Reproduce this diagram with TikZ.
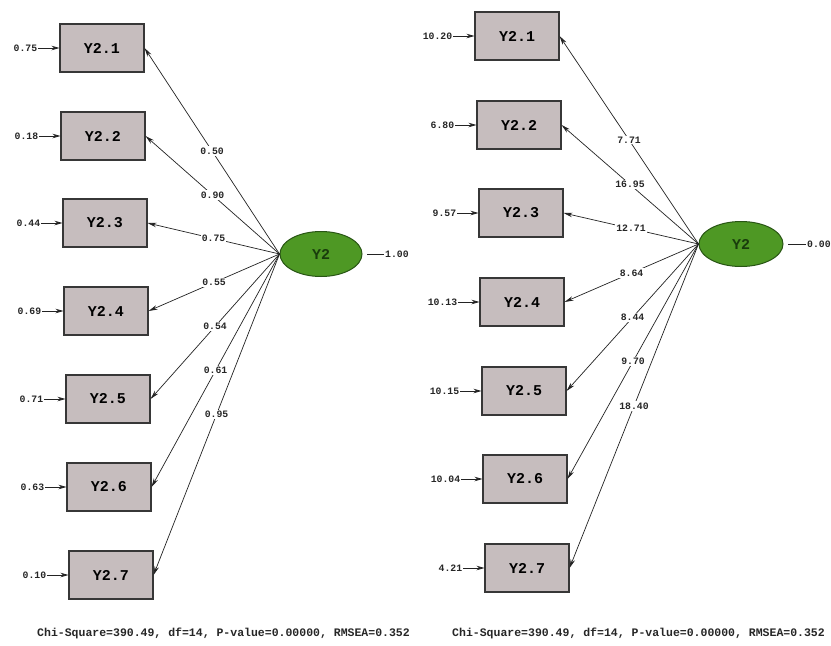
\documentclass[tikz,border=0pt]{standalone}
\usepackage{fontspec}
\setmonofont{Liberation Mono}
\usetikzlibrary{arrows.meta,shapes.geometric}
\definecolor{boxfill}{RGB}{198,189,190}
\definecolor{boxline}{RGB}{55,55,55}
\definecolor{ellfill}{RGB}{78,152,36}
\definecolor{ellline}{RGB}{40,85,20}
\definecolor{elltext}{RGB}{25,60,12}
\definecolor{wire}{RGB}{35,35,35}
\tikzset{
  obsbox/.style={draw=boxline,fill=boxfill,line width=1.1pt,minimum width=84pt,minimum height=48pt,inner sep=0pt,font=\fontsize{15}{15}\selectfont\ttfamily\bfseries},
  latent/.style={ellipse,draw=ellline,fill=ellfill,line width=1pt,minimum width=82pt,minimum height=45pt,inner sep=0pt,font=\fontsize{15}{15}\selectfont\ttfamily\bfseries,text=elltext},
  numtxt/.style={inner sep=1pt,font=\fontsize{9.8}{10}\selectfont\ttfamily\bfseries,text=black!85},
  lbl/.style={numtxt,fill=white,inner sep=1.2pt},
  load/.style={draw=wire,line width=0.7pt,-{Stealth[length=9pt,width=4.5pt]}},
  resid/.style={draw=wire,line width=0.7pt,-{Stealth[length=8pt,width=4.5pt]}},
  fitline/.style={draw=wire,line width=0.5pt},
  fit/.style={inner sep=0pt,anchor=west,font=\fontsize{11.5}{12}\selectfont\ttfamily\bfseries,text=black!85}
}
\begin{document}
\begin{tikzpicture}[x=1pt,y=-1pt]
\useasboundingbox[fill=white] (0,0) rectangle (831,646);
% ---------- left panel ----------
\node[latent] (L) at (321,254) {Y2};
\node[obsbox] (a1) at (102,48) {Y2.1};
\node[obsbox] (a2) at (103,136) {Y2.2};
\node[obsbox] (a3) at (105,223) {Y2.3};
\node[obsbox] (a4) at (106,311) {Y2.4};
\node[obsbox] (a5) at (108,399) {Y2.5};
\node[obsbox] (a6) at (109,487) {Y2.6};
\node[obsbox] (a7) at (111,575) {Y2.7};
\foreach \i/\v in {1/0.50,2/0.90,3/0.75,4/0.55,5/0.54,6/0.61,7/0.95}{
  \draw[load] (L.west) -- (a\i.east) node[lbl,midway] {\v};
}
\foreach \i/\v in {1/0.75,2/0.18,3/0.44,4/0.69,5/0.71,6/0.63,7/0.10}{
  \node[numtxt,anchor=east] (ra\i) at ([xshift=-21pt]a\i.west) {\v};
  \draw[resid] (ra\i.east) -- (a\i.west);
}
\coordinate (cL) at (367,254);
\node[numtxt,anchor=west] (vL) at (384,254) {1.00};
\draw[fitline] (cL) -- (vL.west);
\node[fit] (fitL) at (37,633) {Chi-Square=390.49, df=14, P-value=0.00000, RMSEA=0.352};
% ---------- right panel ----------
\node[latent,minimum width=84pt] (R) at (741,244) {Y2};
\node[obsbox] (b1) at (517,36) {Y2.1};
\node[obsbox] (b2) at (519,125) {Y2.2};
\node[obsbox] (b3) at (521,213) {Y2.3};
\node[obsbox] (b4) at (522,302) {Y2.4};
\node[obsbox] (b5) at (524,391) {Y2.5};
\node[obsbox] (b6) at (525,479) {Y2.6};
\node[obsbox] (b7) at (527,568) {Y2.7};
\foreach \i/\v in {1/7.71,2/16.95,3/12.71,4/8.64,5/8.44,6/9.70,7/18.40}{
  \draw[load] (R.west) -- (b\i.east) node[lbl,midway] {\v};
}
\foreach \i/\v in {1/10.20,2/6.80,3/9.57,4/10.13,5/10.15,6/10.04,7/4.21}{
  \node[numtxt,anchor=east] (rb\i) at ([xshift=-21pt]b\i.west) {\v};
  \draw[resid] (rb\i.east) -- (b\i.west);
}
\coordinate (cR) at (788,244);
\node[numtxt,anchor=west] (vR) at (806,244) {0.00};
\draw[fitline] (cR) -- (vR.west);
\node[fit] (fitR) at (452,633) {Chi-Square=390.49, df=14, P-value=0.00000, RMSEA=0.352};
\end{tikzpicture}
\end{document}
